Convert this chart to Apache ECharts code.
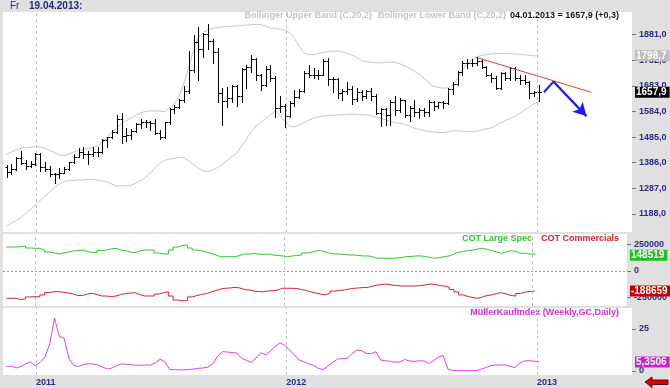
<!DOCTYPE html>
<html><head><meta charset="utf-8">
<script src="https://cdn.jsdelivr.net/npm/echarts@6/dist/echarts.min.js"></script>
<style>html,body{margin:0;padding:0;background:#e0e0e0}#c{width:670px;height:388px}</style>
</head><body><div id="c"></div>
<script>
// weekly bars (Friday), first week 19.11.2010
const firstWeek = Date.UTC(2010, 10, 19);
const WEEK = 7 * 864e5;

// [open, high, low, close]
const ohlc = [
[1368,1378,1329,1352],[1352,1382,1343,1363],[1363,1410,1357,1406],[1406,1432,1381,1385],[1385,1398,1361,1375],
[1375,1392,1371,1380],[1380,1424,1376,1421],[1421,1424,1354,1369],[1369,1389,1355,1360],[1360,1372,1336,1342],
[1342,1348,1309,1341],[1341,1367,1327,1348],[1348,1371,1346,1360],[1360,1390,1356,1388],[1388,1419,1384,1409],
[1409,1441,1408,1429],[1429,1445,1403,1420],[1420,1432,1381,1418],[1418,1447,1411,1428],[1428,1448,1412,1429],
[1429,1476,1423,1474],[1474,1487,1446,1486],[1486,1511,1480,1504],[1504,1570,1501,1556],[1556,1577,1462,1491],
[1491,1519,1468,1492],[1492,1515,1477,1510],[1510,1538,1506,1536],[1536,1553,1520,1542],[1542,1552,1524,1543],
[1543,1549,1514,1539],[1539,1556,1497,1501],[1501,1512,1478,1486],[1486,1545,1483,1542],[1542,1596,1536,1594],
[1594,1610,1578,1601],[1601,1632,1596,1628],[1628,1682,1620,1662],[1662,1817,1656,1745],[1745,1881,1738,1852],
[1852,1912,1705,1827],[1827,1886,1795,1883],[1883,1921,1824,1857],[1857,1862,1771,1813],[1813,1829,1620,1657],
[1657,1673,1532,1624],[1624,1680,1600,1636],[1636,1686,1622,1682],[1682,1686,1604,1642],[1642,1751,1620,1746],
[1746,1765,1676,1755],[1755,1802,1737,1788],[1788,1791,1706,1724],[1724,1730,1668,1685],[1685,1761,1683,1746],
[1746,1763,1700,1713],[1713,1720,1562,1598],[1598,1642,1583,1606],[1606,1612,1523,1566],[1566,1626,1562,1617],
[1617,1665,1606,1640],[1640,1672,1634,1664],[1664,1740,1660,1732],[1732,1764,1718,1725],[1725,1753,1715,1724],
[1724,1745,1710,1726],[1726,1787,1723,1777],[1777,1792,1688,1710],[1710,1716,1660,1711],[1711,1715,1635,1657],
[1657,1672,1627,1662],[1662,1698,1651,1669],[1669,1683,1612,1631],[1631,1676,1626,1661],[1661,1665,1627,1643],
[1643,1668,1637,1663],[1663,1675,1630,1645],[1645,1650,1576,1579],[1579,1598,1527,1592],[1592,1598,1533,1572],
[1572,1630,1532,1622],[1622,1642,1570,1590],[1590,1634,1581,1628],[1628,1630,1563,1572],[1572,1605,1547,1598],
[1598,1627,1568,1580],[1580,1598,1557,1590],[1590,1597,1568,1583],[1583,1630,1567,1620],[1620,1625,1588,1605],
[1605,1622,1596,1620],[1620,1625,1598,1616],[1616,1675,1613,1671],[1671,1697,1650,1691],[1691,1741,1688,1737],
[1737,1777,1723,1772],[1772,1788,1753,1772],[1772,1787,1758,1773],[1773,1796,1765,1780],[1780,1788,1752,1757],
[1757,1760,1719,1724],[1724,1731,1697,1712],[1712,1722,1672,1676],[1676,1736,1672,1731],[1731,1738,1706,1714],
[1714,1754,1707,1751],[1751,1756,1705,1712],[1712,1723,1691,1705],[1705,1723,1690,1696],[1696,1700,1635,1657],
[1657,1663,1645,1657.6],[1661,1686,1624,1657.9]
];

const upperBand = [1418,1427,1436,1442,1444,1445,1448,1446,1442,1434,
1425,1416,1413,1420,1427,1434,1438,1442,1445,1452,
1465,1484,1506,1520,1537,1549,1560,1570,1579,1584,
1586,1586,1585,1583,1598,1614,1645,1694,1756,1820,
1870,1890,1899,1905,1908,1910,1912,1913,1914,1916,
1917,1919,1920,1920,1913,1906,1905,1902,1898,1888,
1866,1835,1810,1803,1804,1808,1812,1815,1817,1817,
1814,1808,1802,1792,1780,1776,1774,1772,1772,1773,
1774,1774,1768,1760,1750,1740,1728,1712,1695,1681,
1677,1674,1675,1688,1712,1745,1767,1784,1795,1800,
1803,1806,1807,1808,1808,1807,1806,1805,1803,1801,
1799,1798.7];

const lowerBand = [1142,1153,1163,1174,1190,1205,1222,1240,1256,1275,
1291,1304,1313,1317,1318,1319,1320,1321,1322,1319,
1316,1312,1303,1296,1297,1298,1299,1308,1318,1330,
1347,1367,1384,1395,1400,1403,1406,1405,1393,1378,
1365,1355,1351,1358,1368,1380,1395,1410,1423,1450,
1478,1505,1528,1543,1555,1572,1586,1570,1545,1528,
1525,1532,1541,1550,1558,1563,1566,1568,1569,1571,
1572,1573,1574,1573,1572,1571,1568,1562,1557,1552,
1546,1541,1538,1534,1527,1520,1514,1510,1507,1505,
1503,1502,1505,1509,1509,1508,1507,1506,1508,1512,
1517,1520,1530,1541,1549,1557,1566,1578,1590,1602,
1614,1624];

const cotLargeSpec = [226000,226000,231000,236000,217000,214000,214000,198000,179000,170000,
160000,170000,179000,189000,193000,198000,184000,175000,173000,193000,
198000,208000,214000,198000,192000,179000,173000,189000,198000,198000,
198000,170000,160000,160000,198000,226000,241000,245000,217000,198000,
189000,179000,165000,151000,135000,135000,135000,135000,146000,160000,
160000,165000,160000,156000,160000,151000,146000,142000,135000,142000,
146000,151000,170000,175000,189000,192000,179000,167000,160000,160000,
156000,151000,151000,146000,142000,142000,132000,120000,120000,120000,
120000,123000,127000,135000,137000,142000,142000,137000,127000,120000,
127000,135000,142000,160000,175000,184000,193000,198000,208000,214000,
203000,192000,179000,167000,179000,192000,184000,167000,167000,160000,
160000,148519];

const cotCommercials = [-258000,-258000,-269000,-264000,-245000,-242000,-245000,-226000,-203000,-195000,
-195000,-201000,-208000,-217000,-231000,-231000,-217000,-210000,-222000,-236000,
-236000,-241000,-236000,-222000,-212000,-208000,-205000,-222000,-236000,-236000,
-236000,-217000,-205000,-195000,-236000,-274000,-280000,-280000,-245000,-231000,
-222000,-212000,-198000,-184000,-170000,-163000,-160000,-154000,-160000,-175000,
-179000,-189000,-195000,-195000,-189000,-186000,-179000,-163000,-163000,-163000,
-165000,-175000,-184000,-198000,-208000,-217000,-226000,-208000,-189000,-184000,
-179000,-170000,-163000,-160000,-156000,-154000,-142000,-132000,-127000,-123000,
-132000,-137000,-142000,-142000,-142000,-142000,-137000,-132000,-123000,-127000,
-137000,-142000,-151000,-175000,-198000,-226000,-242000,-250000,-258000,-245000,
-231000,-226000,-212000,-205000,-217000,-231000,-236000,-212000,-198000,-193000,
-189000,-188659];

const muellerKaufIndex = [2.7,2.9,1.8,2.7,4.2,5.4,3.0,5.1,8.3,16.1,
31.5,20.5,19.5,7.5,3.3,2.7,3.9,4.2,4.2,3.6,
2.4,1.2,1.8,3.3,4.2,4.0,3.7,3.5,3.4,3.5,
3.6,4.8,7.0,5.4,0.9,0.8,0.7,0.6,0.9,1.2,
1.6,1.8,2.4,4.2,8.9,11.5,11.3,11.0,10.7,7.6,
6.3,5.1,7.7,10.9,9.5,11.9,14.6,16.8,15.2,12.5,
9.5,6.5,5.4,4.2,3.3,1.5,0.9,3.0,5.1,7.1,
7.4,7.4,10.4,12.5,12.1,10.4,10.4,11.4,6.5,6.1,
5.7,5.2,5.4,6.8,6.0,5.7,6.1,6.0,4.5,6.1,
8.3,9.2,1.2,0.3,0.2,0.2,0.2,0.2,0.3,1.2,
2.1,3.3,3.6,3.6,3.6,2.7,2.1,4.8,6.0,6.1,
5.8,5.3506];

const priceTicks = [1188, 1287, 1386, 1485, 1584, 1683, 1782, 1881];
const cotTicks = [-250000, 0, 250000];
const mkiTicks = [0, 25];
const yearTicks = [Date.UTC(2011,0,1), Date.UTC(2012,0,1), Date.UTC(2013,0,1)];

// drawings
const trendLine = [[Date.UTC(2012,9,4), 1793], [Date.UTC(2013,2,21), 1658]];
const forecastArrow = [[Date.UTC(2013,0,11), 1658], [Date.UTC(2013,0,25), 1699], [Date.UTC(2013,2,14), 1566]];

const dates = ohlc.map((_, i) => firstWeek + i * WEEK);
const last = ohlc.length - 1;
const comma = (v, d) => v.toFixed(d).replace('.', ',');
const pad = n => (n < 10 ? '0' : '') + n;
const lastD = new Date(dates[last]);
const lastClose = ohlc[last][3];
const chg = lastClose - ohlc[last - 1][3];
const infoText = pad(lastD.getUTCDate()) + '.' + pad(lastD.getUTCMonth() + 1) + '.' + lastD.getUTCFullYear() +
  ' = ' + comma(lastClose, 1) + ' (' + (chg >= 0 ? '+' : '') + comma(chg, 1) + ')';

const xMin = Date.UTC(2010, 10, 13, 20);
const xMax = Date.UTC(2013, 4, 19, 14);
const NAVY = '#2a2a86';
const FONT = '"Liberation Sans", Arial, sans-serif';

const yearLines = yearTicks.map(t => ({ xAxis: t, lineStyle: { color: '#bdbdbd', type: [3, 3], width: 1 }, label: { show: false } }));
const box = (val, text, bg) => ({
  yAxis: val, lineStyle: { color: 'rgba(0,0,0,0)', width: 0 },
  label: { show: true, position: 'end', distance: 3, formatter: () => text, backgroundColor: bg, color: '#fff',
    fontSize: 10, fontWeight: 'bold', fontFamily: FONT, padding: [1, 3, 0, 1], lineHeight: 10, opacity: 1 }
});
const mk = data => ({ silent: true, symbol: 'none', animation: false, data });

const xAxisBase = i => ({ type: 'value', gridIndex: i, min: xMin, max: xMax, show: false, splitLine: { show: false } });
const yAxisBase = (i, min, max, ticks, fmt) => ({
  type: 'value', gridIndex: i, position: 'right', min, max,
  axisLine: { show: false }, splitLine: { show: false },
  axisTick: { show: true, customValues: ticks, length: 4, lineStyle: { color: '#777' } },
  axisLabel: { customValues: ticks, formatter: fmt, color: NAVY, fontSize: 9, fontWeight: 'bold', fontFamily: FONT, margin: 7 }
});

const chart = echarts.init(document.getElementById('c'), null, { renderer: 'canvas' });
chart.setOption({
  animation: false,
  backgroundColor: '#e0e0e0',
  grid: [
    { left: 3, right: 38, top: 12, height: 220, show: true, backgroundColor: '#fff', borderWidth: 0 },
    { left: 3, right: 38, top: 234, height: 72, show: true, backgroundColor: '#fff', borderWidth: 0 },
    { left: 3, right: 38, top: 308, height: 67, show: true, backgroundColor: '#fff', borderWidth: 0 }
  ],
  xAxis: [
    xAxisBase(0), xAxisBase(1),
    { type: 'value', gridIndex: 2, min: xMin, max: xMax,
      axisLine: { show: false }, axisTick: { show: false }, splitLine: { show: false },
      axisLabel: { customValues: yearTicks, formatter: v => String(new Date(v).getUTCFullYear()), align: 'left',
        color: NAVY, fontSize: 9, fontWeight: 'bold', fontFamily: FONT, margin: 3 } }
  ],
  yAxis: [
    yAxisBase(0, 1118.5, 1968, priceTicks, v => comma(v, 1)),
    yAxisBase(1, -330190, 349060, cotTicks, v => String(v)),
    yAxisBase(2, -2.38, 37.5, mkiTicks, v => String(v))
  ],
  series: [
    { name: 'GC', type: 'custom', xAxisIndex: 0, yAxisIndex: 0,
      dimensions: ['t', 'o', 'h', 'l', 'c'], encode: { x: 0, y: [1, 2, 3, 4] },
      data: dates.map((t, i) => [t].concat(ohlc[i])),
      renderItem: (params, api) => {
        const t = api.value(0);
        const pO = api.coord([t, api.value(1)]);
        const pH = api.coord([t, api.value(2)]);
        const pL = api.coord([t, api.value(3)]);
        const pC = api.coord([t, api.value(4)]);
        const x = Math.round(pH[0]) + 0.5;
        const yo = Math.round(pO[1]) + 0.5, yc = Math.round(pC[1]) + 0.5;
        const st = { stroke: '#000', lineWidth: 1 };
        return { type: 'group', children: [
          { type: 'line', shape: { x1: x, y1: Math.round(pH[1]), x2: x, y2: Math.round(pL[1]) + 1 }, style: st },
          { type: 'line', shape: { x1: x - 2, y1: yo, x2: x, y2: yo }, style: st },
          { type: 'line', shape: { x1: x, y1: yc, x2: x + 2.5, y2: yc }, style: st }
        ] };
      }, z: 3 },
    { name: 'Bollinger Upper Band (C,20,2)', type: 'line', xAxisIndex: 0, yAxisIndex: 0, symbol: 'none', clip: false,
      data: dates.map((t, i) => [t, upperBand[i]]), lineStyle: { color: '#c6c6c6', width: 1 }, z: 2,
      markLine: mk([box(upperBand[last], comma(upperBand[last], 1), '#bdbdbd')]) },
    { name: 'Bollinger Lower Band (C,20,2)', type: 'line', xAxisIndex: 0, yAxisIndex: 0, symbol: 'none', clip: false,
      data: dates.map((t, i) => [t, lowerBand[i]]), lineStyle: { color: '#c6c6c6', width: 1 }, z: 2,
      markLine: mk(yearLines.concat([box(lastClose, comma(lastClose, 1), '#000')])) },
    { name: 'Trend', type: 'line', xAxisIndex: 0, yAxisIndex: 0, symbol: 'none',
      data: trendLine, lineStyle: { color: '#e83a3a', width: 1 }, z: 4 },
    { name: 'Forecast', type: 'line', xAxisIndex: 0, yAxisIndex: 0, symbol: 'none',
      data: forecastArrow, lineStyle: { color: '#1a1aff', width: 2 }, z: 4,
      markLine: { silent: true, animation: false, symbol: ['none', 'arrow'], symbolSize: [11, 13],
        lineStyle: { color: '#1a1aff', width: 2, type: 'solid' }, label: { show: false },
        data: [[{ coord: forecastArrow[1] }, { coord: forecastArrow[2] }]] } },
    { name: 'COT Large Spec', type: 'line', xAxisIndex: 1, yAxisIndex: 1, symbol: 'none', step: 'end', clip: false,
      data: dates.map((t, i) => [t, cotLargeSpec[i]]), lineStyle: { color: '#2ec82e', width: 1 },
      markLine: mk(yearLines.concat([
        { yAxis: 0, lineStyle: { color: '#9a9a9a', type: [2, 2], width: 1 }, label: { show: false } },
        box(cotLargeSpec[last], String(cotLargeSpec[last]), '#1fbf1f')])) },
    { name: 'COT Commercials', type: 'line', xAxisIndex: 1, yAxisIndex: 1, symbol: 'none', step: 'end', clip: false,
      data: dates.map((t, i) => [t, cotCommercials[i]]), lineStyle: { color: '#d42424', width: 1 },
      markLine: mk([box(cotCommercials[last], String(cotCommercials[last]), '#c00000')]) },
    { name: 'MüllerKaufIndex (Weekly,GC,Daily)', type: 'line', xAxisIndex: 2, yAxisIndex: 2, symbol: 'none', clip: false,
      data: dates.map((t, i) => [t, muellerKaufIndex[i]]), lineStyle: { color: '#dd44dd', width: 1 },
      markLine: mk(yearLines.concat([box(muellerKaufIndex[last], comma(muellerKaufIndex[last], 4), '#cc22cc')])) }
  ],
  graphic: [
    { type: 'text', x: 10, y: 6, style: { text: 'Fr', fill: '#2f2f70', font: '10px ' + FONT, verticalAlign: 'middle' } },
    { type: 'text', x: 29, y: 6, style: { text: '19.04.2013:', fill: '#1f2a80', font: 'bold 10px ' + FONT, verticalAlign: 'middle' } },
    { type: 'text', x: 372, y: 16, style: { text: 'Bollinger Upper Band (C,20,2)', fill: '#c4c4c4', font: 'bold 9px ' + FONT, align: 'right', verticalAlign: 'middle' } },
    { type: 'text', x: 506, y: 16, style: { text: 'Bollinger Lower Band (C,20,2)', fill: '#c4c4c4', font: 'bold 9px ' + FONT, align: 'right', verticalAlign: 'middle' } },
    { type: 'text', x: 619, y: 16, style: { text: infoText, fill: '#111', font: 'bold 9px ' + FONT, align: 'right', verticalAlign: 'middle' } },
    { type: 'text', x: 532, y: 238.5, style: { text: 'COT Large Spec', fill: '#2ec82e', font: 'bold 9px ' + FONT, align: 'right', verticalAlign: 'middle' } },
    { type: 'text', x: 619, y: 238.5, style: { text: 'COT Commercials', fill: '#d42424', font: 'bold 9px ' + FONT, align: 'right', verticalAlign: 'middle' } },
    { type: 'text', x: 619, y: 312.5, style: { text: 'MüllerKaufIndex (Weekly,GC,Daily)', fill: '#cc33cc', font: 'bold 9px ' + FONT, align: 'right', verticalAlign: 'middle' } },
    { type: 'polygon', shape: { points: [[645, 382], [652, 377], [652, 380], [668, 380], [668, 384.5], [652, 384.5], [652, 387.5]] },
      style: { fill: '#e00000', stroke: '#700000', lineWidth: 1 } }
  ]
});
</script></body></html>
